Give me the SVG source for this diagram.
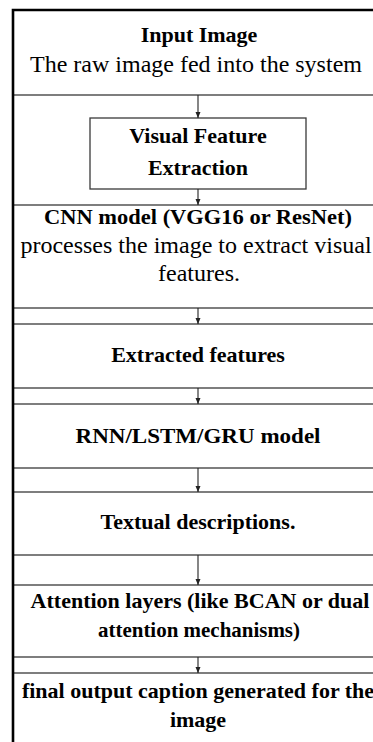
<svg xmlns="http://www.w3.org/2000/svg" width="373" height="742" viewBox="0 0 373 742">
<style>
  .sec { fill: #ffffff; stroke: #3a3a3a; stroke-width: 1.3; }
  .frame { fill: none; stroke: #000000; stroke-width: 2.6; }
  .b { font-family: "Liberation Serif", "Times New Roman", serif; font-weight: bold; font-size: 22px; fill: #000; text-anchor: middle; }
  .r { font-family: "Liberation Serif", "Times New Roman", serif; font-size: 24px; fill: #000; text-anchor: middle; }
  .conn { stroke: #222; stroke-width: 1.1; fill: none; marker-end: url(#ah); }
</style>
<defs>
  <marker id="ah" viewBox="0 0 6 6" refX="6" refY="3" markerWidth="6" markerHeight="6" markerUnits="userSpaceOnUse" orient="auto">
    <path d="M0,0.5 L6,3 L0,5.5 Z" fill="#222"/>
  </marker>
</defs>
<rect width="373" height="742" fill="#ffffff"/>
<g id="input-image">
  <rect class="sec" x="13" y="10" width="420" height="85"/>
  <text class="b" x="199" y="42">Input Image</text>
  <text class="r" x="196" y="72">The raw image fed into the system</text>
</g>
<g id="visual-feature-extraction">
  <rect class="sec" x="90" y="118" width="216" height="71"/>
  <text class="b" x="198" y="143">Visual Feature</text>
  <text class="b" x="198" y="175">Extraction</text>
</g>
<g id="cnn-model">
  <rect class="sec" x="13" y="205" width="420" height="103"/>
  <text class="b" x="198" y="224" textLength="308" lengthAdjust="spacingAndGlyphs">CNN model (VGG16 or ResNet)</text>
  <text class="r" x="196" y="253">processes the image to extract visual</text>
  <text class="r" x="199" y="281">features.</text>
</g>
<g id="extracted-features">
  <rect class="sec" x="13" y="324" width="420" height="64"/>
  <text class="b" x="198" y="362">Extracted features</text>
</g>
<g id="rnn-model">
  <rect class="sec" x="13" y="404" width="420" height="64"/>
  <text class="b" x="198" y="443" textLength="245" lengthAdjust="spacingAndGlyphs">RNN/LSTM/GRU model</text>
</g>
<g id="textual-descriptions">
  <rect class="sec" x="13" y="492" width="420" height="63"/>
  <text class="b" x="198" y="529">Textual descriptions.</text>
</g>
<g id="attention-layers">
  <rect class="sec" x="13" y="585" width="420" height="72"/>
  <text class="b" x="200" y="608">Attention layers (like BCAN or dual</text>
  <text class="b" x="199" y="637" textLength="202" lengthAdjust="spacingAndGlyphs">attention mechanisms)</text>
</g>
<g id="final-output">
  <rect class="sec" x="13" y="673" width="420" height="100"/>
  <text class="b" x="198" y="698">final output caption generated for the</text>
  <text class="b" x="198" y="727">image</text>
</g>
<g id="connectors">
  <line class="conn" x1="198" y1="95" x2="198" y2="118"/>
  <line class="conn" x1="198" y1="189" x2="198" y2="205"/>
  <line class="conn" x1="198" y1="308" x2="198" y2="324"/>
  <line class="conn" x1="198" y1="388" x2="198" y2="404"/>
  <line class="conn" x1="198" y1="468" x2="198" y2="492"/>
  <line class="conn" x1="198" y1="555" x2="198" y2="585"/>
  <line class="conn" x1="198" y1="657" x2="198" y2="673"/>
</g>
<path class="frame" d="M13,742 L13,10 L373,10"/>
</svg>
